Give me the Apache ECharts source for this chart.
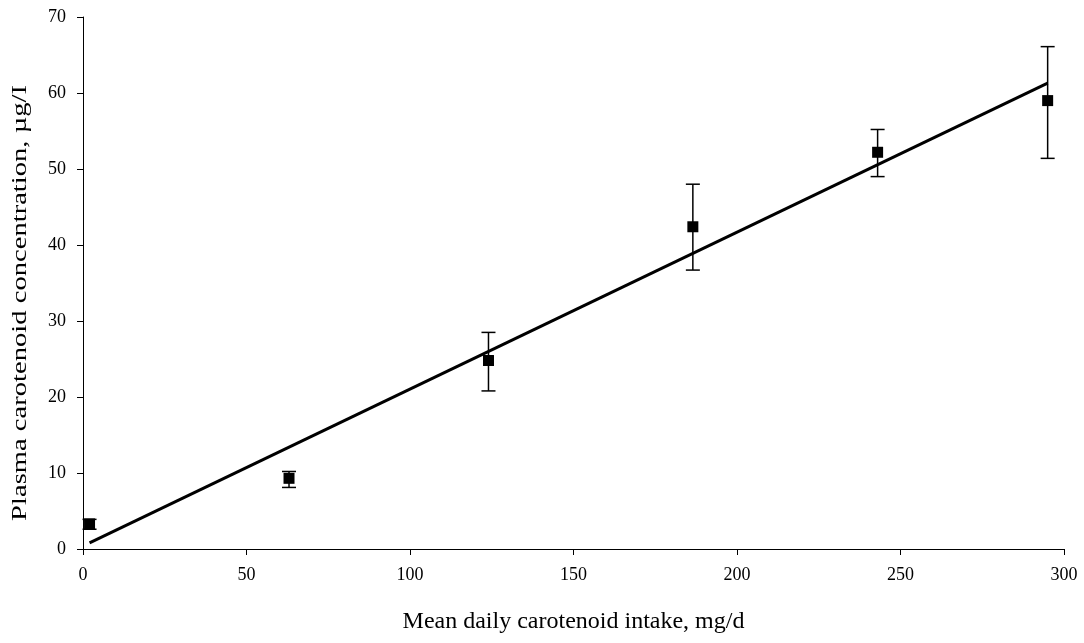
<!DOCTYPE html>
<html>
<head>
<meta charset="utf-8">
<script src="https://cdn.jsdelivr.net/npm/echarts@6/dist/echarts.min.js"></script>
<style>
  html, body { margin: 0; padding: 0; background: #fff; }
  #chart { width: 1084px; height: 643px; }
</style>
</head>
<body>
<div id="chart"></div>
<script>
// Mean daily intake (mg/d) and plasma concentration (µg/l) per group
const intake = [2, 63, 124, 186.5, 243, 295];
const plasmaMean = [3.3, 9.3, 24.8, 42.4, 52.2, 59.0];
const plasmaLow = [2.6, 8.1, 20.8, 36.7, 49.0, 51.4];
const plasmaHigh = [3.9, 10.2, 28.5, 48.0, 55.2, 66.1];

// Fitted regression line endpoints
const fitX = [2, 295];
const fitY = [0.8, 61.3];

const xTicks = [0, 50, 100, 150, 200, 250, 300];
const yTicks = [0, 10, 20, 30, 40, 50, 60, 70];

const xTitle = 'Mean daily carotenoid intake, mg/d';
const yTitle = 'Plasma carotenoid concentration, µg/I';

const font = '"Liberation Serif", "Times New Roman", serif';

const points = intake.map((x, i) => [x, plasmaMean[i]]);
const bars = intake.map((x, i) => [x, plasmaLow[i], plasmaHigh[i]]);
const fit = fitX.map((x, i) => [x, fitY[i]]);

const chart = echarts.init(document.getElementById('chart'));
chart.setOption({
  animation: false,
  backgroundColor: '#fff',
  grid: { left: 83, right: 20, top: 17, bottom: 94 },
  // vertical axis title, drawn as a rotated and slightly stretched text
  graphic: [{
    type: 'text',
    x: 20, y: 303,
    rotation: Math.PI / 2,
    scaleX: 1.3,
    style: {
      text: yTitle,
      fontFamily: font, fontSize: 22, fill: '#000',
      align: 'center', verticalAlign: 'middle'
    }
  }],
  xAxis: {
    type: 'value',
    min: xTicks[0], max: xTicks[xTicks.length - 1], interval: 50,
    name: xTitle,
    nameLocation: 'middle', nameGap: 61,
    nameTextStyle: { fontFamily: font, fontSize: 24, color: '#000' },
    axisLine: { lineStyle: { color: '#000', width: 1 } },
    axisTick: { show: true, inside: false, length: 6, lineStyle: { color: '#000' } },
    axisLabel: { fontFamily: font, fontSize: 18, color: '#000', margin: 17 },
    splitLine: { show: false }
  },
  yAxis: {
    type: 'value',
    min: yTicks[0], max: yTicks[yTicks.length - 1], interval: 10,
    axisLine: { show: true, lineStyle: { color: '#000', width: 1 } },
    axisTick: { show: true, inside: false, length: 6, lineStyle: { color: '#000' } },
    axisLabel: { fontFamily: font, fontSize: 18, color: '#000', margin: 17 },
    splitLine: { show: false }
  },
  series: [
    {
      type: 'line',
      data: fit,
      symbol: 'none',
      lineStyle: { color: '#000', width: 3 },
      z: 3
    },
    {
      type: 'custom',
      data: bars,
      renderItem: function (params, api) {
        const x = api.value(0);
        const lo = api.coord([x, api.value(1)]);
        const hi = api.coord([x, api.value(2)]);
        const cap = 7;
        const style = { stroke: '#000', lineWidth: 1.5 };
        return {
          type: 'group',
          children: [
            { type: 'line', shape: { x1: lo[0], y1: lo[1], x2: hi[0], y2: hi[1] }, style: style },
            { type: 'line', shape: { x1: lo[0] - cap, y1: lo[1], x2: lo[0] + cap, y2: lo[1] }, style: style },
            { type: 'line', shape: { x1: hi[0] - cap, y1: hi[1], x2: hi[0] + cap, y2: hi[1] }, style: style }
          ]
        };
      },
      z: 2
    },
    {
      type: 'scatter',
      data: points,
      symbol: 'rect',
      symbolSize: 11,
      itemStyle: { color: '#000', opacity: 1 },
      z: 4
    }
  ]
});
</script>
</body>
</html>
